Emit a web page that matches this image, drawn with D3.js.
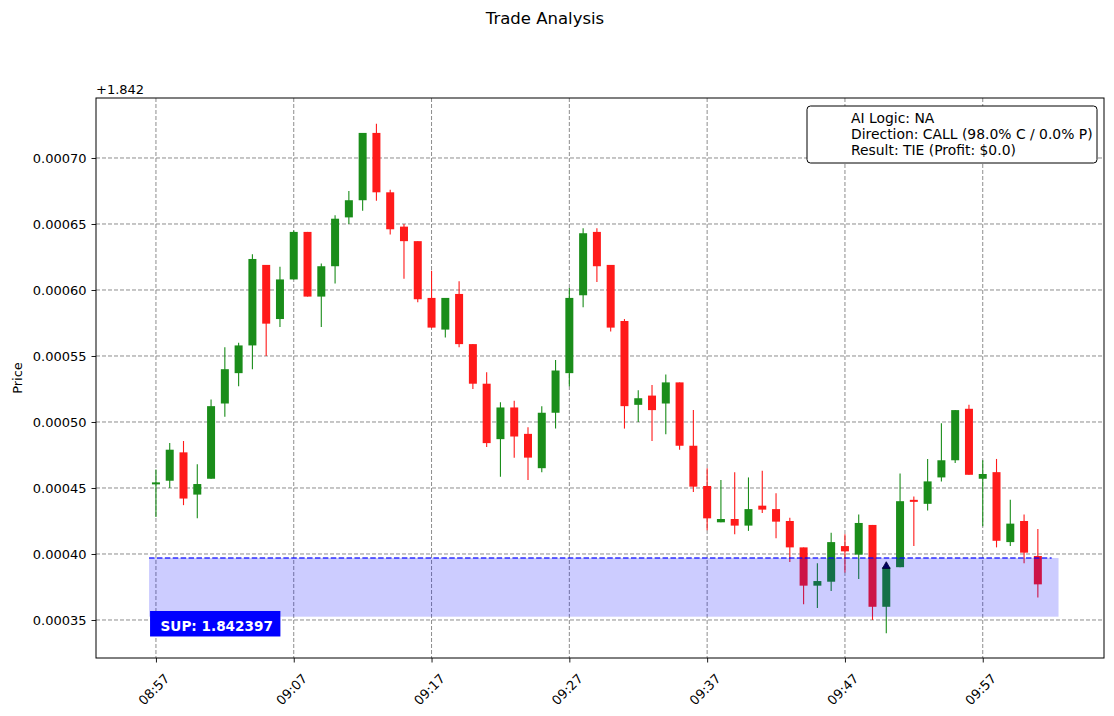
<!DOCTYPE html>
<html>
<head>
<meta charset="utf-8">
<script src="https://cdn.jsdelivr.net/npm/d3@7"></script>
<style>
  body { margin: 0; background: #fff; }
  text { font-family: "DejaVu Sans", sans-serif; }
</style>
</head>
<body>
<div id="chart"></div>
<script>
// candle times: one per minute, 08:57 .. 10:01
const startTime = "08:57";
const candleCount = 65;
const tickLabels = ["08:57", "09:07", "09:17", "09:27", "09:37", "09:47", "09:57"];

const opens = [
  1.8424530, 1.8424555, 1.8424770, 1.8424450, 1.8424570, 1.8425140, 1.8425370, 1.8425580, 1.8426190, 1.8425780,
  1.8426080, 1.8426440, 1.8425950, 1.8426180, 1.8426550, 1.8426680, 1.8427190, 1.8426740, 1.8426480, 1.8426370,
  1.8425940, 1.8425700, 1.8425970, 1.8425590, 1.8425290, 1.8424870, 1.8425110, 1.8424910, 1.8424650, 1.8425070,
  1.8425370, 1.8425960, 1.8426440, 1.8426190, 1.8425765, 1.8425130, 1.8425200, 1.8425140, 1.8425300, 1.8424820,
  1.8424515, 1.8424240, 1.8424265, 1.8424215, 1.8424366, 1.8424340, 1.8424250, 1.8424050, 1.8423760, 1.8423790,
  1.8424060, 1.8423995, 1.8424220, 1.8423600, 1.8423900, 1.8424405, 1.8424380, 1.8424580, 1.8424710, 1.8425100,
  1.8424570, 1.8424620, 1.8424090, 1.8424250, 1.8423985
];
const highs = [
  1.8424640, 1.8424840, 1.8424856, 1.8424680, 1.8425170, 1.8425566, 1.8425600, 1.8426270, 1.8426190, 1.8426177,
  1.8426450, 1.8426440, 1.8426200, 1.8426566, 1.8426750, 1.8427190, 1.8427260, 1.8426760, 1.8426500, 1.8426370,
  1.8426146, 1.8425940, 1.8426066, 1.8425590, 1.8425376, 1.8425150, 1.8425160, 1.8424960, 1.8425120, 1.8425470,
  1.8426015, 1.8426467, 1.8426467, 1.8426190, 1.8425780, 1.8425240, 1.8425280, 1.8425360, 1.8425300, 1.8425090,
  1.8424650, 1.8424560, 1.8424620, 1.8424580, 1.8424630, 1.8424460, 1.8424275, 1.8424050, 1.8423930, 1.8424160,
  1.8424150, 1.8424300, 1.8424220, 1.8423930, 1.8424610, 1.8424435, 1.8424720, 1.8424990, 1.8425090, 1.8425130,
  1.8424710, 1.8424720, 1.8424410, 1.8424300, 1.8424190
];
const lows = [
  1.8424280, 1.8424500, 1.8424370, 1.8424270, 1.8424570, 1.8425040, 1.8425270, 1.8425400, 1.8425500, 1.8425720,
  1.8426080, 1.8425950, 1.8425720, 1.8426050, 1.8426500, 1.8426600, 1.8426677, 1.8426420, 1.8426086, 1.8425907,
  1.8425710, 1.8425640, 1.8425566, 1.8425250, 1.8424810, 1.8424585, 1.8424730, 1.8424560, 1.8424620, 1.8424950,
  1.8425270, 1.8425870, 1.8426060, 1.8425685, 1.8424950, 1.8425000, 1.8424856, 1.8424907, 1.8424790, 1.8424470,
  1.8424180, 1.8424240, 1.8424150, 1.8424175, 1.8424310, 1.8424120, 1.8423940, 1.8423620, 1.8423590, 1.8423720,
  1.8423860, 1.8423810, 1.8423500, 1.8423400, 1.8423900, 1.8424060, 1.8424330, 1.8424550, 1.8424690, 1.8424600,
  1.8424210, 1.8424050, 1.8424060, 1.8423930, 1.8423670
];
const closes = [
  1.8424540, 1.8424790, 1.8424420, 1.8424530, 1.8425120, 1.8425400, 1.8425580, 1.8426235, 1.8425745, 1.8426080,
  1.8426440, 1.8425950, 1.8426180, 1.8426540, 1.8426680, 1.8427190, 1.8426740, 1.8426460, 1.8426370, 1.8425930,
  1.8425715, 1.8425940, 1.8425590, 1.8425290, 1.8424840, 1.8425110, 1.8424890, 1.8424730, 1.8425070, 1.8425390,
  1.8425940, 1.8426430, 1.8426180, 1.8425715, 1.8425120, 1.8425180, 1.8425090, 1.8425300, 1.8424820, 1.8424510,
  1.8424270, 1.8424265, 1.8424215, 1.8424340, 1.8424336, 1.8424245, 1.8424050, 1.8423760, 1.8423795, 1.8424090,
  1.8424020, 1.8424235, 1.8423600, 1.8423900, 1.8424400, 1.8424400, 1.8424550, 1.8424710, 1.8425090, 1.8424600,
  1.8424606, 1.8424100, 1.8424230, 1.8424010, 1.8423770
];

const supportLevel = 1.842397;
const supportZoneLow = 1.8423525;
const signalIndex = 53;
const legendLines = [
  "AI Logic: NA",
  "Direction: CALL (98.0% C / 0.0% P)",
  "Result: TIE (Profit: $0.0)"
];
const yTicks = [1.84235, 1.84240, 1.84245, 1.84250, 1.84255, 1.84260, 1.84265, 1.84270];
const yOffset = 1.842;

const W = 1114, H = 716;
const margin = { top: 98, right: 10, bottom: 58, left: 96 };
const width = W - margin.left - margin.right;
const height = H - margin.top - margin.bottom;

const parseHM = d3.timeParse("%H:%M");
const fmtHM = d3.timeFormat("%H:%M");
const t0 = parseHM(startTime);
const minute = 60000;

const data = d3.range(candleCount).map(i => ({
  time: d3.timeMinute.offset(t0, i),
  open: opens[i], high: highs[i], low: lows[i], close: closes[i]
}));

const x = d3.scaleTime()
  .domain([new Date(+t0 - 4.35 * minute), new Date(+t0 + 68.8 * minute)])
  .range([0, width]);

const y = d3.scaleLinear()
  .domain([1.84232120, 1.84274545])
  .range([height, 0]);

const pxPerMin = x(new Date(+t0 + minute)) - x(t0);
const bodyW = pxPerMin * 0.58;

const svg = d3.select("#chart")
  .append("svg")
  .attr("width", W)
  .attr("height", H);

svg.append("text")
  .attr("x", W / 2 - 12)
  .attr("y", 24)
  .attr("text-anchor", "middle")
  .style("font-size", "16.5px")
  .text("Trade Analysis");

const g = svg.append("g")
  .attr("transform", `translate(${margin.left},${margin.top})`);

// grid
const tickDates = tickLabels.map(parseHM);
g.append("g")
  .selectAll("line.vg")
  .data(tickDates)
  .join("line")
  .attr("x1", d => x(d)).attr("x2", d => x(d))
  .attr("y1", 0).attr("y2", height)
  .attr("stroke", "#808080").attr("stroke-dasharray", "4,2").attr("stroke-width", 0.9);

g.append("g")
  .selectAll("line.hg")
  .data(yTicks)
  .join("line")
  .attr("x1", 0).attr("x2", width)
  .attr("y1", d => y(d)).attr("y2", d => y(d))
  .attr("stroke", "#808080").attr("stroke-dasharray", "4,2").attr("stroke-width", 0.9);

// candles
const colorOf = d => d.close >= d.open ? "rgb(26,141,26)" : "rgb(255,26,26)";

const candles = g.append("g").selectAll("g")
  .data(data)
  .join("g");

candles.append("line")
  .attr("x1", d => x(d.time)).attr("x2", d => x(d.time))
  .attr("y1", d => y(d.high)).attr("y2", d => y(d.low))
  .attr("stroke", colorOf)
  .attr("stroke-width", 1.1);

candles.append("rect")
  .attr("x", d => x(d.time) - bodyW / 2)
  .attr("width", bodyW)
  .attr("y", d => {
    const top = y(Math.max(d.open, d.close));
    const h = Math.abs(y(d.open) - y(d.close));
    return h < 2 ? (top + h / 2 - 1) : top;
  })
  .attr("height", d => Math.max(2, Math.abs(y(d.open) - y(d.close))))
  .attr("fill", colorOf);

// support zone
const zoneStart = new Date(+data[0].time - 0.5 * minute);
const zoneEnd = new Date(+data[candleCount - 1].time + 1.5 * minute);
const lineEnd = new Date(+data[candleCount - 1].time + 1.0 * minute);

g.append("rect")
  .attr("x", x(zoneStart))
  .attr("width", x(zoneEnd) - x(zoneStart))
  .attr("y", y(supportLevel))
  .attr("height", y(supportZoneLow) - y(supportLevel))
  .attr("fill", "blue")
  .attr("fill-opacity", 0.2);

g.append("line")
  .attr("x1", x(zoneStart)).attr("x2", x(lineEnd))
  .attr("y1", y(supportLevel)).attr("y2", y(supportLevel))
  .attr("stroke", "blue")
  .attr("stroke-opacity", 0.8)
  .attr("stroke-width", 1.6)
  .attr("stroke-dasharray", "5.5,2.4");

// signal marker
const sig = data[signalIndex];
const sx = x(sig.time), sy = y(sig.close);
g.append("path")
  .attr("d", d3.symbol().type(d3.symbolTriangle).size(26)())
  .attr("transform", `translate(${sx},${sy - 1})`)
  .attr("fill", "#000060")
  .attr("stroke", "#000030")
  .attr("stroke-width", 0.8);

// support label
const lbl = g.append("g");
const lblText = lbl.append("text")
  .attr("x", x(zoneStart) + 11.5)
  .attr("y", y(supportZoneLow) + 14.5)
  .attr("fill", "white")
  .style("font-size", "13.6px")
  .style("font-weight", "bold")
  .text(`SUP: ${supportLevel.toFixed(6)}`);
const bb = lblText.node().getBBox();
lbl.insert("rect", "text")
  .attr("x", x(zoneStart) + 1)
  .attr("y", y(supportZoneLow) - 5.7)
  .attr("width", bb.width + 18)
  .attr("height", 25.5)
  .attr("fill", "blue");

// axes
const xAxis = d3.axisBottom(x)
  .tickValues(tickDates)
  .tickFormat(fmtHM)
  .tickSize(4.5)
  .tickPadding(3);

const gx = g.append("g")
  .attr("transform", `translate(0,${height})`)
  .call(xAxis);
gx.select(".domain").remove();
gx.selectAll(".tick line").attr("stroke", "black").attr("stroke-width", 0.9);
gx.selectAll(".tick text")
  .attr("y", 0)
  .attr("dy", null)
  .attr("text-anchor", "middle")
  .attr("dominant-baseline", "central")
  .attr("transform", "translate(-2.5,31.5) rotate(-45)")
  .style("font-size", "13px")
  .attr("fill", "black");

const yAxis = d3.axisLeft(y)
  .tickValues(yTicks)
  .tickFormat(d => (d - yOffset).toFixed(5))
  .tickSize(4.5)
  .tickPadding(5);

const gy = g.append("g").call(yAxis);
gy.select(".domain").remove();
gy.selectAll(".tick line").attr("stroke", "black").attr("stroke-width", 0.9);
gy.selectAll(".tick text")
  .style("font-size", "13px")
  .attr("fill", "black");

g.append("text")
  .attr("x", 0)
  .attr("y", -4)
  .style("font-size", "13px")
  .text(`+${yOffset}`);

g.append("text")
  .attr("transform", "rotate(-90)")
  .attr("x", -height / 2)
  .attr("y", -74)
  .attr("text-anchor", "middle")
  .style("font-size", "13px")
  .text("Price");

// frame
g.append("rect")
  .attr("width", width).attr("height", height)
  .attr("fill", "none")
  .attr("stroke", "black")
  .attr("stroke-width", 1);

// legend
const lg = g.append("g")
  .attr("transform", `translate(${width - 297},8)`);
lg.append("rect")
  .attr("width", 290).attr("height", 57)
  .attr("rx", 3.5)
  .attr("fill", "white")
  .attr("stroke", "black")
  .attr("stroke-width", 1);
lg.selectAll("text")
  .data(legendLines)
  .join("text")
  .attr("x", 44)
  .attr("y", (d, i) => 17 + i * 16)
  .style("font-size", "13.9px")
  .text(d => d);
</script>
</body>
</html>
